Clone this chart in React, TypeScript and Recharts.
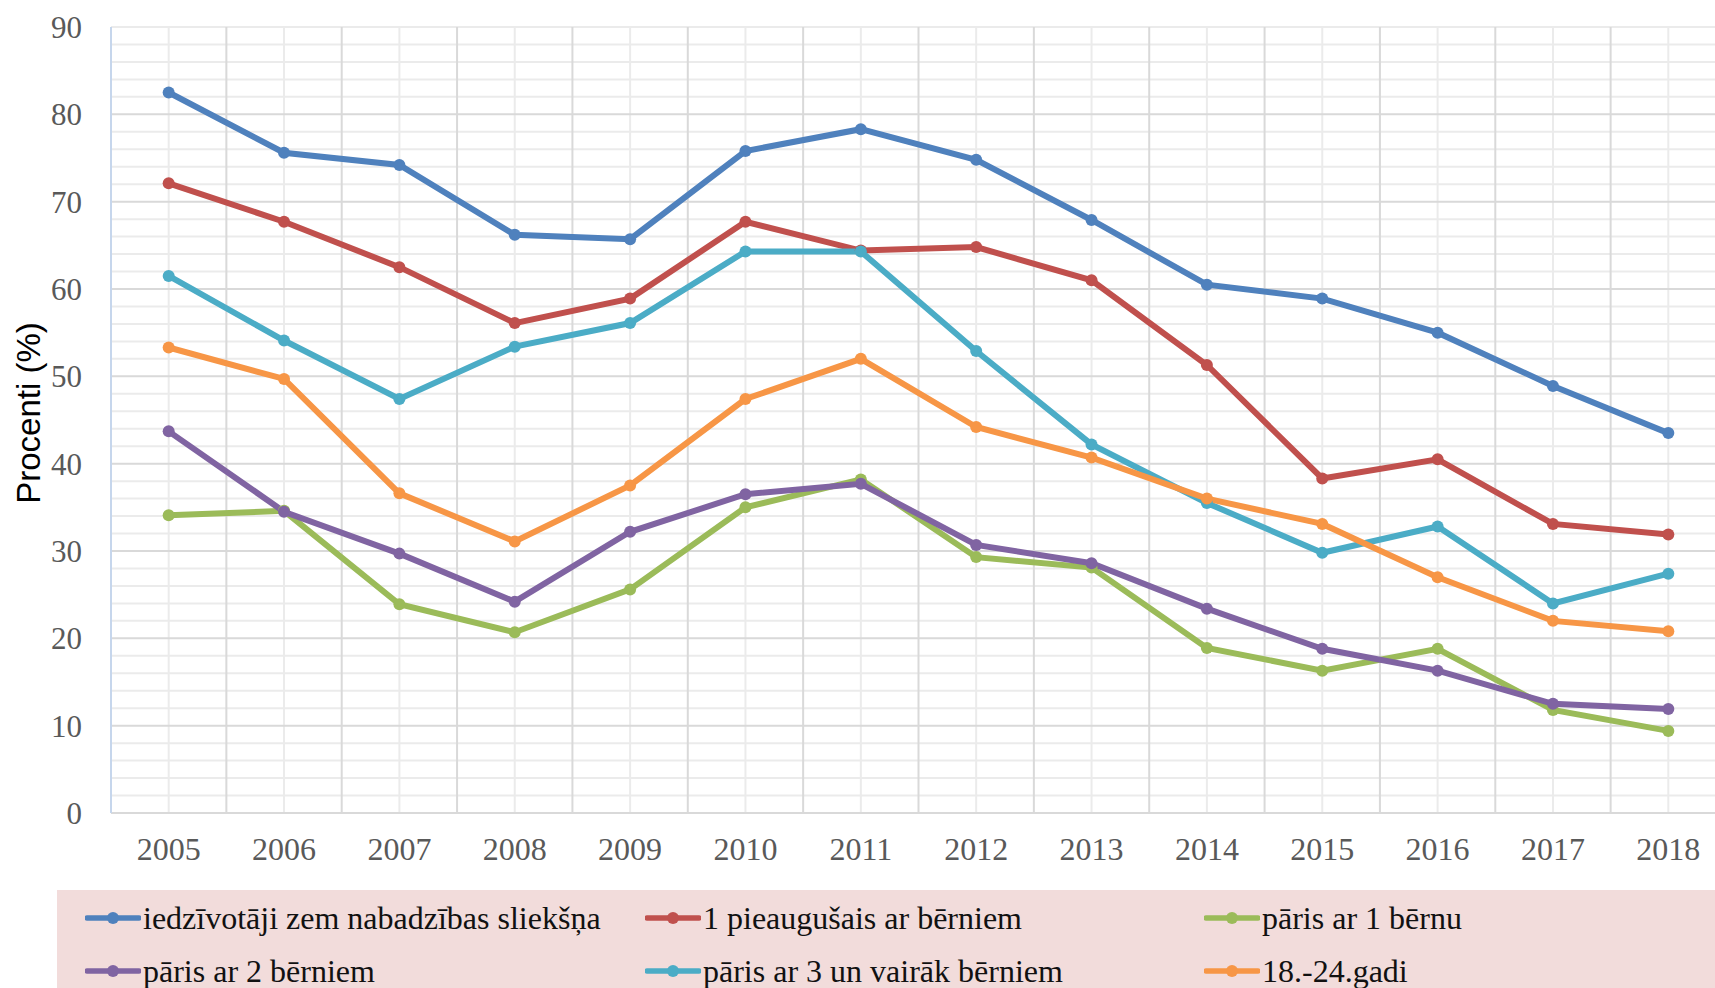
import React from 'react';
import { LineChart, Line, XAxis, YAxis, CartesianGrid, Legend } from 'recharts';

const YEARS = [2005, 2006, 2007, 2008, 2009, 2010, 2011, 2012, 2013, 2014, 2015, 2016, 2017, 2018];
const Y_TICKS = [0, 10, 20, 30, 40, 50, 60, 70, 80, 90];
const MINOR_Y = [2, 4, 6, 8, 12, 14, 16, 18, 22, 24, 26, 28, 32, 34, 36, 38, 42, 44, 46, 48, 52, 54, 56, 58, 62, 64, 66, 68, 72, 74, 76, 78, 82, 84, 86, 88, 90];
const MAJOR_Y = [10, 20, 30, 40, 50, 60, 70, 80];
// category borders between the years
const MAJOR_X = [2005.5, 2006.5, 2007.5, 2008.5, 2009.5, 2010.5, 2011.5, 2012.5, 2013.5, 2014.5, 2015.5, 2016.5, 2017.5];

const belowPoverty = [82.5, 75.6, 74.2, 66.2, 65.7, 75.8, 78.3, 74.8, 67.9, 60.5, 58.9, 55.0, 48.9, 43.5];
const singleAdult = [72.1, 67.7, 62.5, 56.1, 58.9, 67.7, 64.4, 64.8, 61.0, 51.3, 38.3, 40.5, 33.1, 31.9];
const coupleOneChild = [34.1, 34.6, 23.9, 20.7, 25.6, 35.0, 38.2, 29.3, 28.1, 18.9, 16.3, 18.8, 11.8, 9.4];
const coupleTwoChildren = [43.7, 34.5, 29.7, 24.2, 32.2, 36.5, 37.7, 30.7, 28.6, 23.4, 18.8, 16.3, 12.5, 11.9];
const coupleThreePlus = [61.5, 54.1, 47.4, 53.4, 56.1, 64.3, 64.3, 52.9, 42.2, 35.5, 29.8, 32.8, 24.0, 27.4];
const age18to24 = [53.3, 49.7, 36.6, 31.1, 37.5, 47.4, 52.0, 44.2, 40.7, 36.0, 33.1, 27.0, 22.0, 20.8];

const SERIES = [
  { key: 'belowPoverty', name: 'iedzīvotāji zem nabadzības sliekšņa', color: '#4f81bd', values: belowPoverty },
  { key: 'singleAdult', name: '1 pieaugušais ar bērniem', color: '#c0504d', values: singleAdult },
  { key: 'coupleOneChild', name: 'pāris ar 1 bērnu', color: '#9bbb59', values: coupleOneChild },
  { key: 'coupleTwoChildren', name: 'pāris ar 2 bērniem', color: '#8064a2', values: coupleTwoChildren },
  { key: 'coupleThreePlus', name: 'pāris ar 3 un vairāk bērniem', color: '#4bacc6', values: coupleThreePlus },
  { key: 'age18to24', name: '18.-24.gadi', color: '#f79646', values: age18to24 },
];

const data = YEARS.map((year, i) => {
  const row: Record<string, number> = { year };
  SERIES.forEach((s) => {
    row[s.key] = s.values[i];
  });
  return row;
});

// recharts 3 may hand over either a plain d3 scale or a wrapper with .map()
const toPixels = (axis: any, values: number[]): number[] => {
  if (!axis || !axis.scale) return [];
  const sc = axis.scale;
  const f = typeof sc === 'function' ? (v: number) => sc(v) : (v: number) => sc.map(v);
  return values.map(f).filter((p) => typeof p === 'number' && !isNaN(p));
};

const SERIF = '"Liberation Serif", "Times New Roman", serif';
const LEGEND_COLS = [28, 588, 1147];
const LEGEND_ROWS = [28, 81];

const LegendContent = () => (
  <div style={{ position: 'relative', width: '100%', height: '100%' }}>
    {SERIES.map((s, i) => (
      <div
        key={s.key}
        style={{
          position: 'absolute',
          left: LEGEND_COLS[i % 3],
          top: LEGEND_ROWS[Math.floor(i / 3)] - 20,
          height: 40,
          display: 'flex',
          alignItems: 'center',
          whiteSpace: 'nowrap',
        }}
      >
        <svg width={56} height={14} style={{ display: 'block' }}>
          <line x1={2} y1={7} x2={54} y2={7} stroke={s.color} strokeWidth={5.5} strokeLinecap="round" />
          <circle cx={28} cy={7} r={6} fill={s.color} />
        </svg>
        <span style={{ fontFamily: SERIF, fontSize: 32, color: '#111', marginLeft: 2, lineHeight: '40px' }}>{s.name}</span>
      </div>
    ))}
  </div>
);

const YLabel = (props: any) => {
  const vb = props.viewBox || { x: 0, y: 0, width: 0, height: 0 };
  const cx = vb.x + 28;
  const cy = vb.y + vb.height / 2 - 7;
  return (
    <text
      x={cx}
      y={cy}
      transform={`rotate(-90, ${cx}, ${cy})`}
      textAnchor="middle"
      dominantBaseline="central"
      fontFamily='"Liberation Sans", Arial, sans-serif'
      fontSize={33}
      fill="#000"
    >
      Procenti (%)
    </text>
  );
};

const tickStyle = (size: number) => ({
  fill: '#595959',
  fontSize: size,
  fontFamily: SERIF,
  style: { fontFamily: SERIF },
});

export default function App() {
  return (
    <div style={{ position: 'fixed', left: 0, top: 0, width: 1715, height: 988, overflow: 'hidden', background: '#fff' }}>
      <LineChart width={1726} height={988} data={data} margin={{ top: 27, right: 0, bottom: 115, left: 0 }}>
        <CartesianGrid
          stroke="#ebebeb"
          strokeWidth={2}
          horizontalCoordinatesGenerator={({ yAxis }: any) => toPixels(yAxis, MINOR_Y)}
          verticalCoordinatesGenerator={({ xAxis }: any) => toPixels(xAxis, YEARS)}
        />
        <CartesianGrid
          stroke="#d9d9d9"
          strokeWidth={2}
          horizontalCoordinatesGenerator={({ yAxis }: any) => toPixels(yAxis, MAJOR_Y)}
          verticalCoordinatesGenerator={({ xAxis }: any) => toPixels(xAxis, MAJOR_X)}
        />
        <XAxis
          dataKey="year"
          type="number"
          domain={[2004.5, 2018.5]}
          allowDataOverflow
          ticks={YEARS}
          height={60}
          tickSize={0}
          tickMargin={24}
          axisLine={{ stroke: '#d9d9d9', strokeWidth: 2 }}
          tick={tickStyle(32)}
          interval={0}
        />
        <YAxis
          type="number"
          domain={[0, 90]}
          allowDataOverflow
          ticks={Y_TICKS}
          width={111}
          tickSize={0}
          tickMargin={29}
          axisLine={{ stroke: '#c6d6ec', strokeWidth: 2 }}
          tick={tickStyle(31)}
          interval={0}
          label={{ content: YLabel }}
        />
        <Legend
          layout="horizontal"
          verticalAlign="middle"
          align="center"
          content={LegendContent}
          wrapperStyle={{ left: 57, top: 890, width: 1669, height: 110, backgroundColor: '#f2dcdb' }}
        />
        {SERIES.map((s) => (
          <Line
            key={s.key}
            type="linear"
            dataKey={s.key}
            name={s.name}
            stroke={s.color}
            strokeWidth={6}
            dot={{ r: 6, fill: s.color, stroke: s.color, strokeWidth: 0 }}
            activeDot={false}
            isAnimationActive={false}
          />
        ))}
      </LineChart>
    </div>
  );
}
